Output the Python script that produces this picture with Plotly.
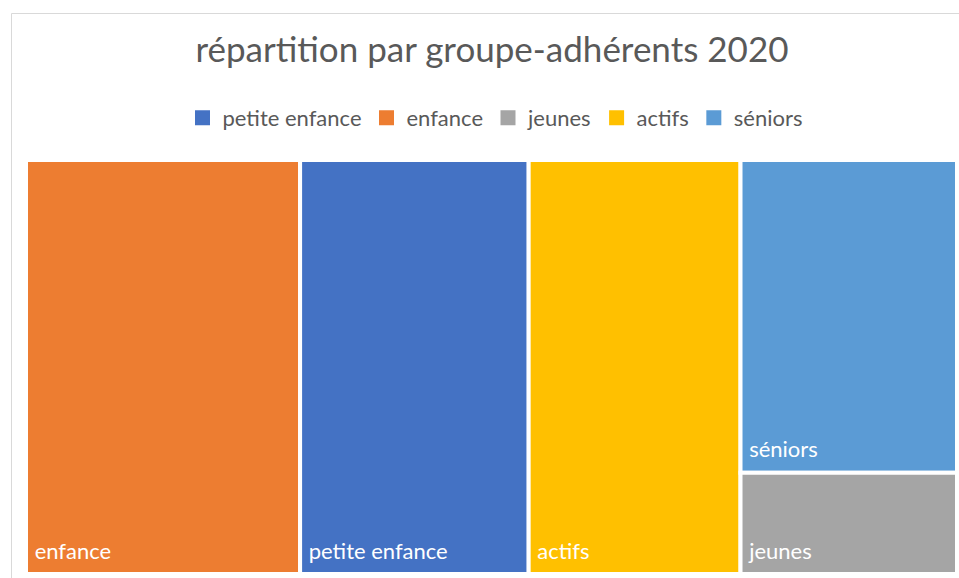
import plotly.graph_objects as go

# Data
labels = ["enfance", "petite enfance", "actifs", "séniors", "jeunes"]
values = [295, 246, 228, 176, 57]
legend_order = ["petite enfance", "enfance", "jeunes", "actifs", "séniors"]
palette = {
    "petite enfance": "#4472C4",
    "enfance": "#ED7D31",
    "jeunes": "#A5A5A5",
    "actifs": "#FFC000",
    "séniors": "#5B9BD5",
}
title_text = "répartition par groupe-adhérents 2020"

W, H = 959, 578
FONT = "Lato"
GREY = "#595959"
LABEL_SIZE = 22

fig = go.Figure()
fig.add_trace(go.Treemap(
    labels=labels,
    parents=[""] * len(labels),
    values=values,
    sort=True,
    marker=dict(colors=[palette[l] for l in labels],
                line=dict(color="white", width=4),
                pad=dict(t=0, l=0, r=0, b=0)),
    tiling=dict(squarifyratio=1, pad=0),
    textposition="bottom left",
    texttemplate=("<span style='font-size:%dpx'>\u00a0%%{label}</span>"
                  "<br>\u00a0" % LABEL_SIZE),
    textfont=dict(color="white", size=8, family=FONT),
    domain=dict(x=[26 / W, 957 / W], y=[1 - 574 / H, 1 - 160 / H]),
    pathbar=dict(visible=False),
    root=dict(color="white"),
))

for name in legend_order:
    fig.add_trace(go.Scatter(
        x=[None], y=[None], mode="markers", name=name,
        marker=dict(symbol="square", size=15, color=palette[name]),
        showlegend=True, hoverinfo="skip",
    ))

fig.update_layout(
    width=W, height=H,
    margin=dict(l=0, r=0, t=0, b=0),
    paper_bgcolor="white", plot_bgcolor="white",
    title=dict(text=title_text, x=492 / W, xanchor="center",
               y=1 - 50 / H, yanchor="middle",
               font=dict(family=FONT, size=35, color=GREY)),
    legend=dict(orientation="h", x=495 / W, xanchor="center",
                y=1 - 118 / H, yanchor="middle",
                font=dict(family=FONT, size=22, color=GREY),
                bgcolor="rgba(0,0,0,0)"),
    xaxis=dict(visible=False),
    yaxis=dict(visible=False),
    shapes=[dict(type="rect", xref="paper", yref="paper",
                 x0=11.5 / W, x1=1.2, y0=-0.2, y1=1 - 13.5 / H,
                 line=dict(color="#D9D9D9", width=1), layer="below")],
)

fig.write_html("out.html", config={"displayModeBar": False},
               post_script="document.body.style.margin='0';")
